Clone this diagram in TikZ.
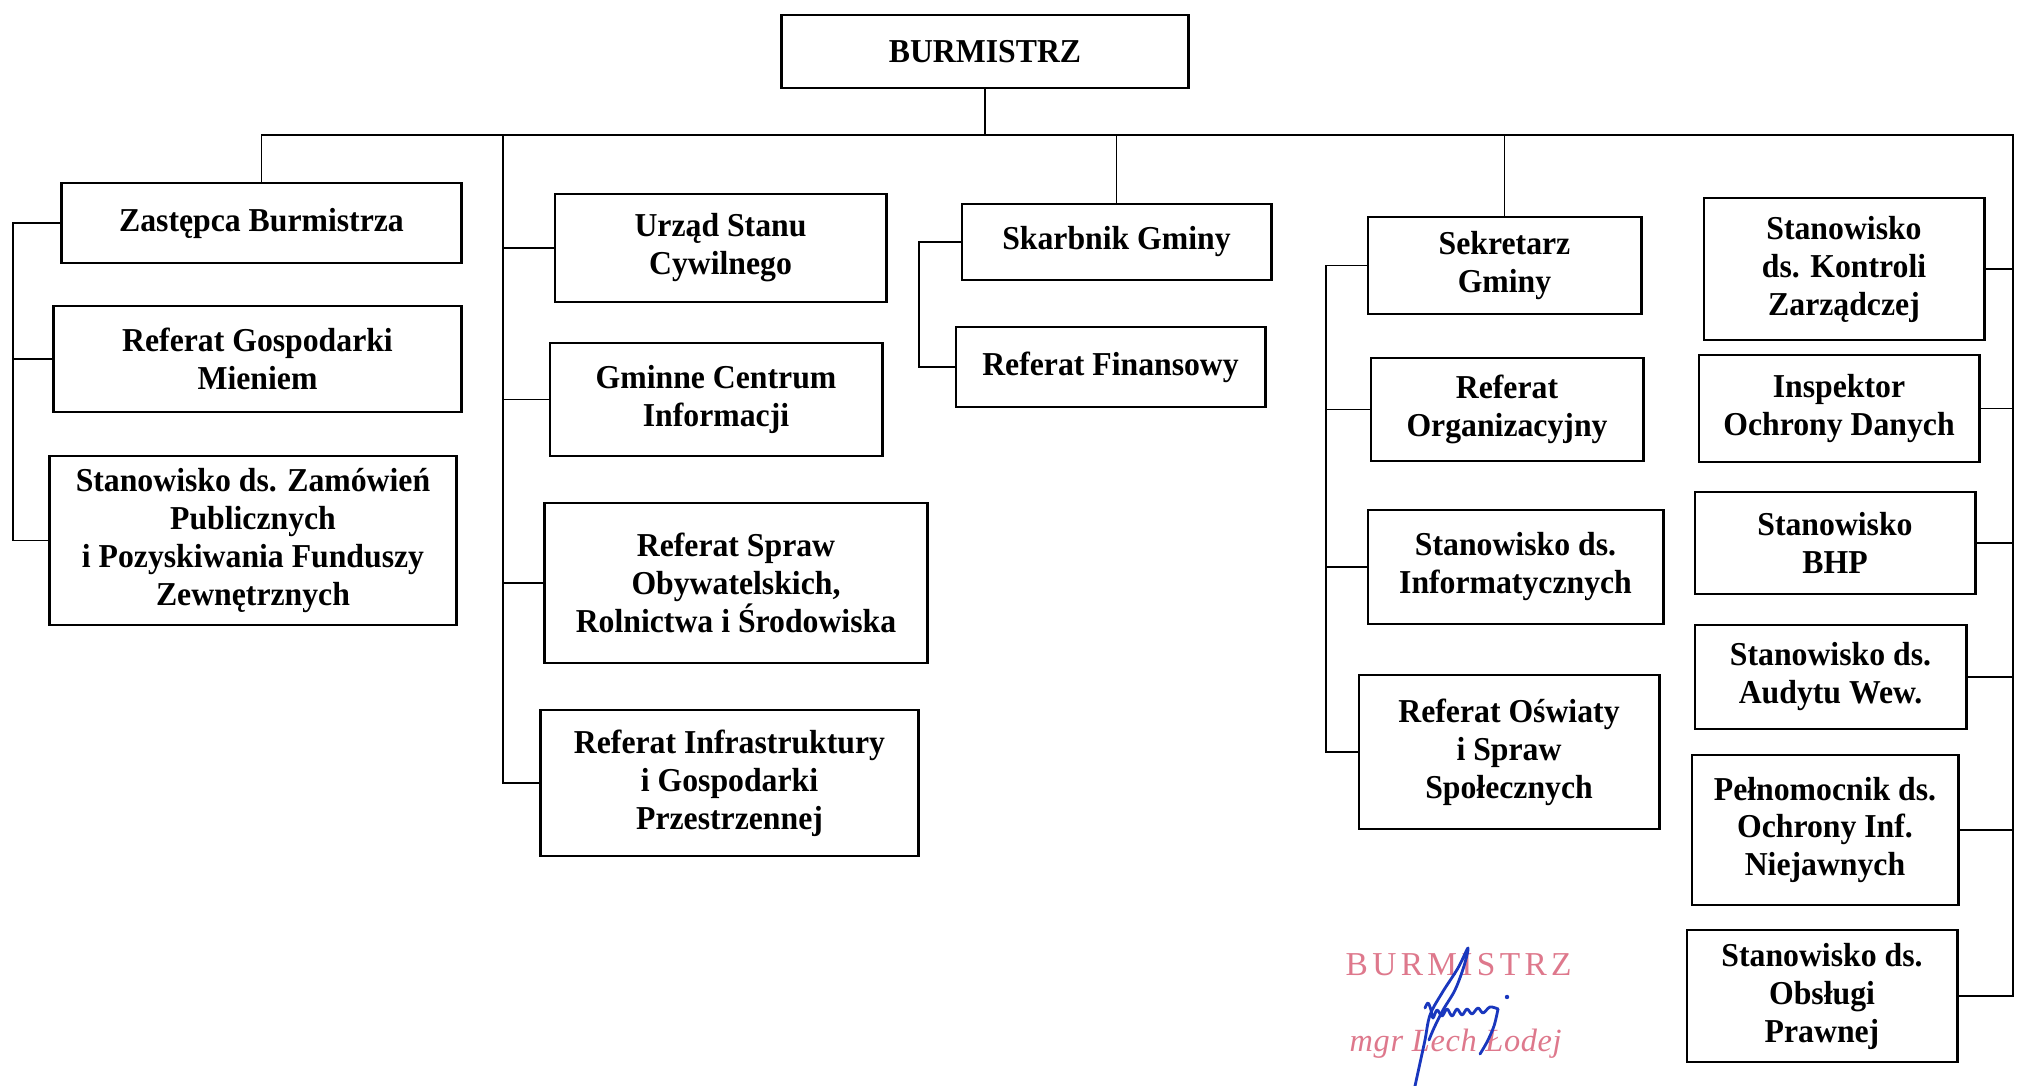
\documentclass[tikz,border=0pt]{standalone}
\usepackage{fontspec}
\setmainfont{Liberation Serif}
\newfontfamily\boxfont{Liberation Serif}[FakeStretch=0.95]
\newfontfamily\stampfont{Liberation Serif}[LetterSpace=13]
\newfontfamily\stampit{Liberation Serif}[LetterSpace=2]
\definecolor{stamp}{RGB}{222,120,140}
\definecolor{sigblue}{RGB}{25,55,190}
\tikzset{
  box/.style={draw, line width=0.8pt, align=center, inner sep=2pt,
    font=\boxfont\bfseries\fontsize{9.5}{10.8}\selectfont},
  conn/.style={line width=0.5pt},
  sig/.style={draw=sigblue, line width=0.8pt, line cap=round, line join=round}
}
\begin{document}
\begin{tikzpicture}[x=0.01cm,y=-0.01cm]
\useasboundingbox[fill=white] (0,0) rectangle (2024,1086);

% top
\node[box, minimum width=4.06cm, minimum height=0.73cm] (burm) at (985,51.5) {BURMISTRZ};

% column 1
\node[box, minimum width=3.99cm, minimum height=0.80cm] (zast) at (261.5,223) {Zastępca Burmistrza};
\node[box, minimum width=4.07cm, minimum height=1.06cm] (rgm) at (257.5,359) {Referat Gospodarki\\Mieniem};
\node[box, minimum width=4.06cm, minimum height=1.69cm] (szp) at (253,540.5) {Stanowisko ds. Zamówień\\Publicznych\\i Pozyskiwania Funduszy\\Zewnętrznych};

% column 2
\node[box, minimum width=3.31cm, minimum height=1.08cm] (usc) at (720.5,248) {Urząd Stanu\\Cywilnego};
\node[box, minimum width=3.32cm, minimum height=1.13cm] (gci) at (716,399.5) {Gminne Centrum\\Informacji};
\node[box, minimum width=3.82cm, minimum height=1.60cm] (rso) at (736,583) {Referat Spraw\\Obywatelskich,\\Rolnictwa i Środowiska};
\node[box, minimum width=3.77cm, minimum height=1.46cm] (rig) at (729.5,783) {Referat Infrastruktury\\i Gospodarki\\Przestrzennej};

% column 3
\node[box, minimum width=3.09cm, minimum height=0.76cm] (skarb) at (1116.5,242) {Skarbnik Gminy};
\node[box, minimum width=3.09cm, minimum height=0.80cm] (rf) at (1110.5,367) {Referat Finansowy};

% column 4
\node[box, minimum width=2.73cm, minimum height=0.97cm] (sekr) at (1504.5,265.5) {Sekretarz\\Gminy};
\node[box, minimum width=2.72cm, minimum height=1.03cm] (rorg) at (1507,409.5) {Referat\\Organizacyjny};
\node[box, minimum width=2.95cm, minimum height=1.14cm] (sinf) at (1515.5,567) {Stanowisko ds.\\Informatycznych};
\node[box, minimum width=3.00cm, minimum height=1.54cm] (ros) at (1509,752) {Referat Oświaty\\i Spraw\\Społecznych};

% column 5
\node[box, minimum width=2.80cm, minimum height=1.42cm] (skz) at (1844,269) {Stanowisko\\ds. Kontroli\\Zarządczej};
\node[box, minimum width=2.80cm, minimum height=1.07cm] (iod) at (1839,408.5) {Inspektor\\Ochrony Danych};
\node[box, minimum width=2.80cm, minimum height=1.02cm] (bhp) at (1835,543) {Stanowisko\\BHP};
\node[box, minimum width=2.71cm, minimum height=1.04cm] (aud) at (1830.5,677) {Stanowisko ds.\\Audytu Wew.};
\node[box, minimum width=2.66cm, minimum height=1.50cm] (pel) at (1825,830) {Pełnomocnik ds.\\Ochrony Inf.\\Niejawnych};
\node[box, minimum width=2.70cm, minimum height=1.32cm] (sop) at (1822,996) {Stanowisko ds.\\Obsługi\\Prawnej};

% bus and rails
\coordinate (busR) at (2013,135);
\coordinate (c1) at (13,0);
\coordinate (c2) at (503,135);
\coordinate (c3) at (919,0);
\coordinate (c4) at (1326,0);

\draw[conn] (burm.south) -- (burm.south |- busR);
\draw[conn] (zast.north) |- (busR) |- (sop.east);
\draw[conn] (skarb.north) -- (skarb.north |- busR);
\draw[conn] (sekr.north) -- (sekr.north |- busR);

% column 1 links
\draw[conn] (zast.west) -- (zast.west -| c1) |- (szp.west);
\draw[conn] (rgm.west) -- (rgm.west -| c1);

% column 2 links
\draw[conn] (c2) |- (rig.west);
\draw[conn] (usc.west) -- (usc.west -| c2);
\draw[conn] (gci.west) -- (gci.west -| c2);
\draw[conn] (rso.west) -- (rso.west -| c2);

% column 3 links
\draw[conn] (skarb.west) -- (skarb.west -| c3) |- (rf.west);

% column 4 links
\draw[conn] (sekr.west) -- (sekr.west -| c4) |- (ros.west);
\draw[conn] (rorg.west) -- (rorg.west -| c4);
\draw[conn] (sinf.west) -- (sinf.west -| c4);

% column 5 links
\draw[conn] (skz.east) -- (skz.east -| busR);
\draw[conn] (iod.east) -- (iod.east -| busR);
\draw[conn] (bhp.east) -- (bhp.east -| busR);
\draw[conn] (aud.east) -- (aud.east -| busR);
\draw[conn] (pel.east) -- (pel.east -| busR);

% stamp
\node[text=stamp, inner sep=0pt, anchor=base west, font=\stampfont\fontsize{9.5}{9.5}\selectfont] (st1) at (1345,976) {BURMISTRZ};
\node[text=stamp, inner sep=0pt, anchor=base west, font=\stampit\itshape\fontsize{9.2}{9.2}\selectfont] (st2) at (1349,1052) {mgr Lech Łodej};

% signature
\draw[sig] plot[smooth, tension=0.55] coordinates {(1415,1086) (1420,1063) (1425,1040) (1430,1015) (1442,993) (1458,968) (1468,948) (1464,966) (1455,990) (1443,1010) (1434,1028) (1429,1040)};
\draw[sig] plot[smooth, tension=0.55] coordinates {(1425,1008) (1428,1003) (1431,1010) (1433,1018) (1437,1010) (1442,1016) (1447,1009) (1452,1016) (1457,1009) (1462,1015) (1467,1009) (1472,1014) (1478,1008) (1483,1013) (1490,1007) (1498,1009)};
\draw[sig] plot[smooth, tension=0.55] coordinates {(1498,1009) (1494,1026) (1487,1042) (1480,1054)};
\fill[sigblue] (1507,997) circle (2.2);
\end{tikzpicture}
\end{document}
